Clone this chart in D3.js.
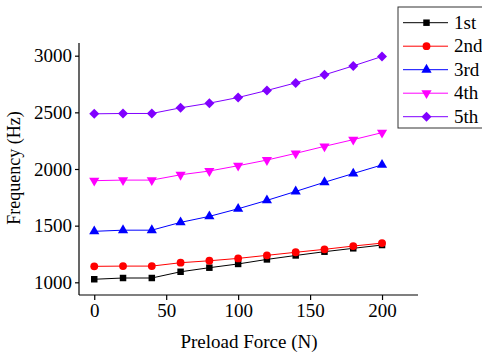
<!DOCTYPE html>
<html>
<head>
<meta charset="utf-8">
<script src="https://cdn.jsdelivr.net/npm/d3@7"></script>
<style>
  body { margin: 0; background: #fff; }
</style>
</head>
<body>
<script>
// data
var force = [0, 20, 40, 60, 80, 100, 120, 140, 160, 180, 200];
var mode1 = [1027, 1038, 1038, 1093, 1129, 1162, 1202, 1237, 1270, 1300, 1329];
var mode2 = [1141, 1143, 1143, 1173, 1190, 1211, 1238, 1265, 1291, 1320, 1346];
var mode3 = [1450, 1460, 1460, 1529, 1582, 1649, 1723, 1802, 1883, 1960, 2036];
var mode4 = [1897, 1902, 1902, 1949, 1982, 2029, 2079, 2138, 2200, 2259, 2321];
var mode5 = [2487, 2490, 2490, 2540, 2581, 2631, 2693, 2760, 2831, 2910, 2993];
var seriesNames = ["1st", "2nd", "3rd", "4th", "5th"];
var xTicks = [0, 50, 100, 150, 200];
var yTicks = [1000, 1500, 2000, 2500, 3000];

var W = 482, H = 355;
var FONT = "'Liberation Serif', 'Times New Roman', serif";
var series = [
  { name: seriesNames[0], values: mode1, color: "#000000", symbol: d3.symbolSquare, size: 42 },
  { name: seriesNames[1], values: mode2, color: "#ff0000", symbol: d3.symbolCircle, size: 48 },
  { name: seriesNames[2], values: mode3, color: "#0000ff", symbol: d3.symbolTriangle, size: 45 },
  { name: seriesNames[3], values: mode4, color: "#ff00ff", symbol: d3.symbolTriangle, size: 45, rot: 180 },
  { name: seriesNames[4], values: mode5, color: "#8000ff", symbol: d3.symbolSquare, size: 50, rot: 45 }
];

var svg = d3.select("body").append("svg")
  .attr("width", W).attr("height", H);

var x = d3.scaleLinear().domain([-10.6, 225]).range([79, 418]);
var y = d3.scaleLinear().domain([888, 3112]).range([295, 43]);

// minor ticks first, then major axes
var xMinor = d3.range(25, 226, 50);
var yMinor = d3.range(1250, 3000, 500);

var gx = svg.append("g").attr("transform", "translate(0,295)");
gx.call(d3.axisBottom(x).tickValues(xMinor).tickSize(3).tickFormat(""));
gx.call(d3.axisBottom(x).tickValues(xTicks).tickSize(5).tickPadding(4).tickFormat(d3.format("d")));
gx.selectAll(".domain").attr("d", "M79,0H418");

var gy = svg.append("g").attr("transform", "translate(79,0)");
gy.call(d3.axisLeft(y).tickValues(yMinor).tickSize(3).tickFormat(""));
gy.call(d3.axisLeft(y).tickValues(yTicks).tickSize(4).tickPadding(3).tickFormat(d3.format("d")));
gy.selectAll(".domain").attr("d", "M0,43V295");

svg.selectAll("g").attr("font-family", FONT);
svg.selectAll(".tick text").attr("font-size", 19).style("font-family", FONT).attr("fill", "#000");
svg.selectAll(".domain, .tick line").attr("stroke", "#000").attr("stroke-width", 1.2);

// lines and markers
var line = d3.line().x(function(d, i) { return x(force[i]); }).y(function(d) { return y(d); });

series.forEach(function(s) {
  svg.append("path")
    .attr("d", line(s.values))
    .attr("fill", "none")
    .attr("stroke", s.color)
    .attr("stroke-width", 1);
  svg.selectAll(null).data(s.values).enter()
    .append("path")
    .attr("d", d3.symbol().type(s.symbol).size(s.size))
    .attr("transform", function(d, i) {
      return "translate(" + x(force[i]) + "," + y(d) + ")" + (s.rot ? " rotate(" + s.rot + ")" : "");
    })
    .attr("fill", s.color);
});

// axis titles
svg.append("text")
  .attr("x", 249).attr("y", 348)
  .attr("text-anchor", "middle")
  .style("font-family", FONT)
  .style("font-size", "19px")
  .text("Preload Force (N)");

svg.append("text")
  .attr("transform", "translate(20,168) rotate(-90)")
  .attr("text-anchor", "middle")
  .style("font-family", FONT)
  .style("font-size", "18px")
  .text("Frequency (Hz)");

// legend
var lg = svg.append("g");
lg.append("rect")
  .attr("x", 398).attr("y", 7).attr("width", 100).attr("height", 121)
  .attr("fill", "#fff").attr("stroke", "#333").attr("stroke-width", 1);

series.forEach(function(s, i) {
  var yy = 22.7 + i * 23.5;
  lg.append("line")
    .attr("x1", 403).attr("x2", 448).attr("y1", yy).attr("y2", yy)
    .attr("stroke", s.color).attr("stroke-width", 1);
  lg.append("path")
    .attr("d", d3.symbol().type(s.symbol).size(s.size))
    .attr("transform", "translate(426.5," + yy + ")" + (s.rot ? " rotate(" + s.rot + ")" : ""))
    .attr("fill", s.color);
  lg.append("text")
    .attr("x", 454).attr("y", yy + 6)
    .style("font-family", FONT)
    .style("font-size", "19px")
    .text(s.name);
});
</script>
</body>
</html>
